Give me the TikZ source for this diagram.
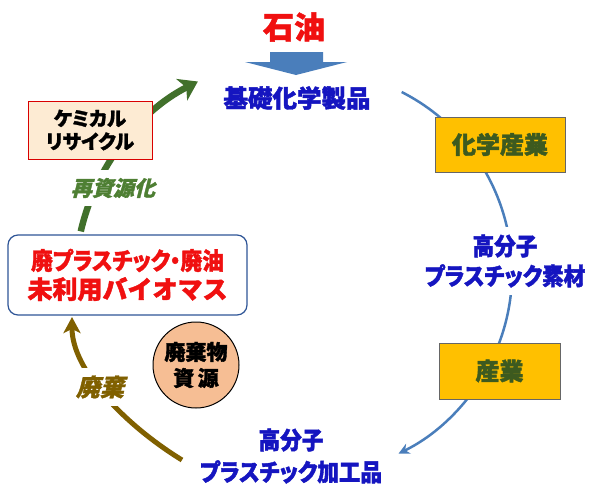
\documentclass[tikz,border=0pt]{standalone}
\usepackage{fontspec}
\usetikzlibrary{arrows.meta}
\newfontfamily\jp{Noto Sans CJK JP}[BoldFeatures={FakeBold=1.6}]
\newfontfamily\jpp{Noto Sans CJK JP}[RawFeature=+palt, BoldFeatures={FakeBold=1.6}]
\newfontfamily\jpn{Noto Sans CJK JP}[RawFeature=+palt, FakeStretch=0.9, BoldFeatures={FakeBold=1.6}]
\newfontfamily\jps{Noto Sans CJK JP}[FakeSlant=0.25, BoldFeatures={FakeBold=1.4}]
\definecolor{txtblue}{HTML}{1515C0}
\definecolor{txtred}{HTML}{F01010}
\definecolor{boxgreen}{HTML}{3D5A1F}
\definecolor{arcblue}{HTML}{4A7EBB}
\definecolor{arrgreen}{HTML}{41702B}
\definecolor{lblgreen}{HTML}{4E7F33}
\definecolor{olive}{HTML}{806000}
\definecolor{gold}{HTML}{FFC000}
\definecolor{peach}{HTML}{F6BE94}
\definecolor{cream}{HTML}{FDEBD3}
\definecolor{boxblue}{HTML}{2F5597}
\tikzset{
  bluetxt/.style={text=txtblue, align=center},
  goldbox/.style={draw=gray!80!black, line width=0.8pt, fill=gold, text=boxgreen, font=\jp\bfseries\fontsize{24}{28}\selectfont},
  bluearc/.style={draw=arcblue, line width=2.5pt},
  greenarc/.style={draw=arrgreen, line width=6.5pt},
  olivearc/.style={draw=olive, line width=5pt},
}
\begin{document}
\begin{tikzpicture}[x=1pt,y=-1pt]
\path[use as bounding box, fill=white] (0,0) rectangle (590,498);

% petroleum and block arrow
\node[text=txtred, font=\jp\bfseries\fontsize{31}{34}\selectfont] (oil) at (294,27) {石油};
\fill[arcblue] (270,52) -- (323,52) -- (323,62) -- (347,62) -- (296,75) -- (245,62) -- (270,62) -- cycle;
\node[bluetxt, font=\jp\bfseries\fontsize{24.5}{28}\selectfont] (base) at (297,98) {基礎化学製品};

% blue cycle arc
\draw[bluearc, -{Stealth[length=11pt,width=11pt]}] (310,272) ++(-63:202) arc[start angle=-63, end angle=64, radius=202];

\node[goldbox, minimum width=130pt, minimum height=55pt] (chem) at (500,144.5) {化学産業};
\node[goldbox, minimum width=121pt, minimum height=56pt] (ind) at (499.5,371) {産業};

\node[bluetxt, fill=white, inner xsep=2pt, inner ysep=7pt, font=\jpn\bfseries\fontsize{24}{30}\selectfont] (mat) at (505,261) {高分子\\プラスチック素材};
\node[bluetxt, fill=white, inner sep=2pt, font=\jpn\bfseries\fontsize{24}{32}\selectfont] (prod) at (291,456) {高分子\\プラスチック加工品};

% green recycle arc
\draw[greenarc, -{Stealth[length=18pt,width=24pt,inset=5pt]}] (300,282) ++(193:225) arc[start angle=193, end angle=243, radius=225];
\node[draw=red!85!black, line width=1pt, fill=cream, minimum width=124pt, minimum height=58pt, align=center, font=\jpp\bfseries\fontsize{19.5}{23}\selectfont] (cr) at (90,130) {ケミカル\\リサイクル};
\node[fill=white, inner xsep=2pt, inner ysep=8pt, text=lblgreen, font=\jps\bfseries\fontsize{21}{24}\selectfont] (reg) at (113,188) {再資源化};

% waste box
\node[draw=boxblue, line width=1.2pt, rounded corners=10pt, fill=white, minimum width=239pt, minimum height=80pt, align=center, text=txtred, font=\bfseries\fontsize{24}{29}\selectfont] (waste) at (127.5,275) {{\jpn 廃プラスチック・廃油}\\{\jp\fontsize{25}{29}\selectfont 未利用バイオマス}};

% olive discard arc
\draw[olivearc, -{Stealth[length=16pt,width=17pt,inset=4pt]}] (182,460) .. controls (125,425) and (72,370) .. (72,317);
\node[fill=white, inner xsep=2pt, inner ysep=8pt, text=olive, font=\jps\bfseries\fontsize{24}{26}\selectfont] (disc) at (100,387) {廃棄};

\node[circle, draw=black, line width=1pt, fill=peach, minimum size=86pt, inner sep=0pt, align=center, font=\jp\bfseries\fontsize{21}{26}\selectfont] (res) at (196,365) {廃棄物\\資\,源};
\end{tikzpicture}
\end{document}
